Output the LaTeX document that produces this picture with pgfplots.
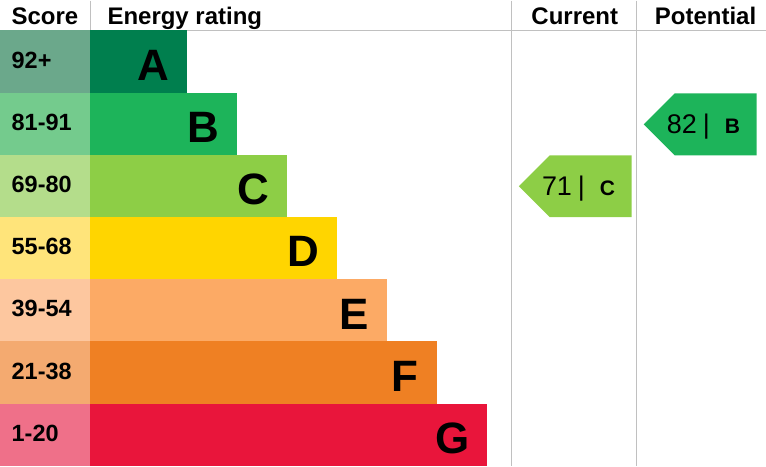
\documentclass[border=0pt]{standalone}
\usepackage{pgfplots}
\pgfplotsset{compat=1.18}
\usepackage{fontspec}
\setmainfont{Liberation Sans}

\definecolor{gridgrey}{HTML}{C0C0C0}
\definecolor{barA}{HTML}{007F4E}
\definecolor{barB}{HTML}{1DB45A}
\definecolor{barC}{HTML}{8DCE46}
\definecolor{barD}{HTML}{FFD500}
\definecolor{barE}{HTML}{FCAA65}
\definecolor{barF}{HTML}{EF8023}
\definecolor{barG}{HTML}{E9153B}
\definecolor{scoA}{HTML}{6BA88B}
\definecolor{scoB}{HTML}{74CB8D}
\definecolor{scoC}{HTML}{B4DD8B}
\definecolor{scoD}{HTML}{FFE47A}
\definecolor{scoE}{HTML}{FDC79F}
\definecolor{scoF}{HTML}{F4AA70}
\definecolor{scoG}{HTML}{EF7089}

% one row: top, bottom, bar end, score colour, bar colour
\newcommand{\band}[5]{%
  \addplot[fill=#4, draw=none] coordinates {(0,#1) (90,#1) (90,#2) (0,#2)};
  \addplot[fill=#5, draw=none] coordinates {(90,#1) (#3,#1) (#3,#2) (90,#2)};
}
\newcommand{\scorelabel}[2]{\node[anchor=base west, inner sep=0pt, font=\fontsize{23.5}{24}\selectfont\bfseries] at (11,#1) {#2};}
\newcommand{\letter}[3]{\node[anchor=base east, inner sep=0pt, font=\fontsize{44}{44}\selectfont\bfseries] at (#1,#2) {#3};}

\begin{document}
\begin{tikzpicture}
\begin{axis}[
    width=766pt, height=466pt,
    scale only axis,
    xmin=0, xmax=766,
    ymin=0, ymax=466,
    y dir=reverse,
    hide axis,
    clip=false,
]
% grid lines
\addplot[gridgrey, line width=1pt] coordinates {(0,30) (766,30)};
\addplot[gridgrey, line width=1pt] coordinates {(90,0) (90,30)};
\addplot[gridgrey, line width=1pt] coordinates {(512,0) (512,466)};
\addplot[gridgrey, line width=1pt] coordinates {(637,0) (637,466)};

% bands
\band{30}{92.3}{187}{scoA}{barA}
\band{92.3}{154.6}{237}{scoB}{barB}
\band{154.6}{216.9}{287}{scoC}{barC}
\band{216.9}{279.1}{337}{scoD}{barD}
\band{279.1}{341.4}{387}{scoE}{barE}
\band{341.4}{403.7}{437}{scoF}{barF}
\band{403.7}{466}{487}{scoG}{barG}

% current and potential arrows
\addplot[fill=barC, draw=none] coordinates {(519,186) (550,155) (632,155) (632,217) (550,217)};
\addplot[fill=barB, draw=none] coordinates {(644,124) (675,93) (757,93) (757,155) (675,155)};

% headers
\node[anchor=base west, inner sep=0pt, font=\fontsize{24}{24}\selectfont\bfseries] at (11,24) {Score};
\node[anchor=base west, inner sep=0pt, font=\fontsize{24}{24}\selectfont\bfseries] at (107,24) {Energy rating};
\node[anchor=base, inner sep=0pt, font=\fontsize{24}{24}\selectfont\bfseries] at (575,24) {Current};
\node[anchor=base, inner sep=0pt, font=\fontsize{24}{24}\selectfont\bfseries] at (706,24) {Potential};

% score labels
\scorelabel{67.7}{92+}
\scorelabel{130}{81-91}
\scorelabel{192.3}{69-80}
\scorelabel{254.5}{55-68}
\scorelabel{316.8}{39-54}
\scorelabel{379.1}{21-38}
\scorelabel{441.4}{1-20}

% rating letters
\letter{169}{80}{A}
\letter{219}{142.3}{B}
\letter{269}{204.6}{C}
\letter{319}{266.8}{D}
\letter{369}{329.1}{E}
\letter{419}{391.4}{F}
\letter{470}{453.7}{G}

% arrow texts
\node[anchor=base west, inner sep=0pt, font=\fontsize{27}{27}\selectfont] at (542,195) {71\hspace{6pt}|\hspace{15pt}{\fontsize{21}{21}\selectfont\bfseries C}};
\node[anchor=base west, inner sep=0pt, font=\fontsize{27}{27}\selectfont] at (667,133) {82\hspace{6pt}|\hspace{15pt}{\fontsize{21}{21}\selectfont\bfseries B}};
\end{axis}
\end{tikzpicture}
\end{document}
